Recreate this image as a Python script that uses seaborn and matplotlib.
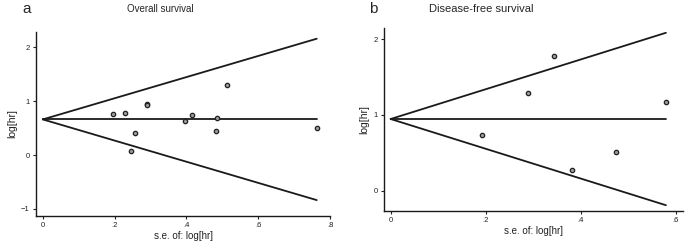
import numpy as np
import pandas as pd
import matplotlib
matplotlib.use('Agg')
import matplotlib.pyplot as plt
import seaborn as sns

# data
os_se = [0.195, 0.228, 0.245, 0.257, 0.291, 0.291, 0.397, 0.415, 0.483, 0.485, 0.514, 0.763]
os_loghr = [0.765, 0.784, 0.068, 0.414, 0.951, 0.920, 0.623, 0.747, 0.444, 0.679, 1.290, 0.506]
os_pooled = 0.66

dfs_se = [0.193, 0.288, 0.343, 0.382, 0.475, 0.579]
dfs_loghr = [0.740, 1.291, 1.780, 0.282, 0.511, 1.172]
dfs_pooled = 0.947

sns.set_style('ticks')
plt.rcParams['font.family'] = ['Liberation Sans', 'DejaVu Sans']

fig = plt.figure(figsize=(6.89, 2.44), dpi=100)
W, H = 689, 244
ax1 = fig.add_axes([36 / W, 1 - 216 / H, (330 - 36) / W, (216 - 32) / H])
ax2 = fig.add_axes([384 / W, 1 - 211 / H, (683 - 384) / W, (211 - 28) / H])


def funnel(ax, se, loghr, pooled, xlim, ylim, xticks, yticks):
    se_max = max(se)
    lines = pd.DataFrame({
        'se': [0, se_max, 0, se_max, 0, se_max],
        'y': [pooled, pooled, pooled, pooled + 1.96 * se_max, pooled, pooled - 1.96 * se_max],
        'g': ['mid', 'mid', 'up', 'up', 'low', 'low'],
    })
    for g, d in lines.groupby('g'):
        sns.lineplot(data=d, x='se', y='y', ax=ax, color='#1a1a1a', lw=1.3)
    pts = pd.DataFrame({'se': se, 'loghr': loghr})
    sns.scatterplot(data=pts, x='se', y='loghr', ax=ax, s=10, facecolor='#9a9a9a',
                    edgecolor='#222222', linewidth=0.9, zorder=3)
    ax.set_xlim(*xlim)
    ax.set_ylim(*ylim)
    ax.set_xticks(xticks)
    ax.set_xticklabels(['0'] + ['.' + str(int(round(t * 10))) for t in xticks[1:]])
    ax.set_yticks(yticks)
    ax.set_yticklabels([str(t).replace('-', '\u2212') for t in yticks])
    ax.tick_params(labelsize=5.5, length=2.5, width=0.8, colors='#222222', pad=2)
    ax.set_xlabel('s.e. of: log[hr]', fontsize=7, color='#222222', labelpad=1)
    ax.set_ylabel('log[hr]', fontsize=7.5, color='#222222', labelpad=3)
    for s in ['left', 'bottom']:
        ax.spines[s].set_linewidth(1.0)
        ax.spines[s].set_color('#1a1a1a')
    sns.despine(ax=ax)


funnel(ax1, os_se, os_loghr, os_pooled, (-0.019, 0.80), (-1.13, 2.28),
       [0, 0.2, 0.4, 0.6, 0.8], [-1, 0, 1, 2])
funnel(ax2, dfs_se, dfs_loghr, dfs_pooled, (-0.014, 0.615), (-0.264, 2.145),
       [0, 0.2, 0.4, 0.6], [0, 1, 2])

fig.text(22 / W, 1 - 9 / H, 'a', fontsize=11, va='center', ha='left')
fig.text(160 / W, 1 - 9 / H, 'Overall survival', fontsize=7, va='center', ha='center')
fig.text(369 / W, 1 - 9 / H, 'b', fontsize=11, va='center', ha='left')
fig.text(481 / W, 1 - 9 / H, 'Disease-free survival', fontsize=8, va='center', ha='center')

fig.savefig('out.png', dpi=100)
